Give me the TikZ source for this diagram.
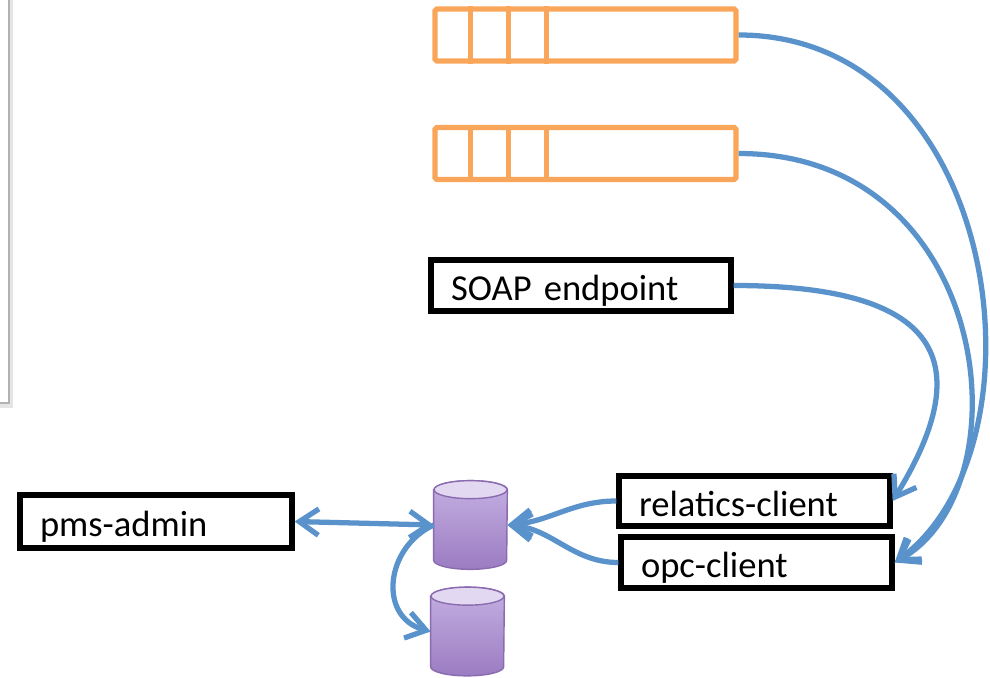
\documentclass[tikz,border=0pt]{standalone}
\usepackage{fontspec}
\setmainfont{Carlito}
\usepackage{tikz}
\usetikzlibrary{arrows.meta,calc}

\definecolor{qorange}{RGB}{249,166,90}
\definecolor{lnblue}{RGB}{90,147,204}
\definecolor{dbedge}{RGB}{138,107,176}
\definecolor{dbtop}{RGB}{227,216,241}
\definecolor{dbhigh}{RGB}{197,176,226}
\definecolor{dblow}{RGB}{155,124,194}

\begin{document}
\begin{tikzpicture}[x=0.02cm,y=0.02cm,
	queue/.style={draw=qorange,line width=3pt,rounded corners=1pt,minimum width=6.02cm,minimum height=1.04cm,inner sep=0pt},
	box/.style={draw,line width=3pt,align=left,inner xsep=0.4cm,inner sep=0pt,text height=0.65cm,text depth=0.05cm,font=\fontsize{20.8}{24}\selectfont},
	dbnode/.style={minimum width=1.46cm,minimum height=1.76cm,inner sep=0pt},
	link/.style={draw=lnblue,line width=3pt,-{Straight Barb[length=11pt,width=15pt]}}]
	\useasboundingbox (0,0) rectangle (990,677);
	\clip (0,0) rectangle (990,677);
	% window cut off at the left
	\fill[gray!20] (-5,269) rectangle (13,690);
	\draw[gray!60,line width=1.5pt,fill=white] (-5,274) rectangle (9,690);
	% queues
	\node[queue] (queueA) at (585.5,642) {};
	\node[queue] (queueB) at (585.5,523.5) {};
	\foreach \q in {queueA,queueB}
		\foreach \x in {38,76,114}
			{\draw[qorange,line width=3pt] ($(\q.north west)+(\x,0)$) -- ($(\q.south west)+(\x,0)$);}
	% boxes
	\node[box,minimum width=6cm,minimum height=1.02cm,text width=5.2cm] (soap) at (581,391.5) {SOAP endpoint};
	\node[box,minimum width=5.42cm,minimum height=1cm,text width=4.62cm] (relatics) at (754.5,176) {relatics-client};
	\node[box,minimum width=5.42cm,minimum height=1.02cm,text width=4.62cm] (opc) at (756.5,114.5) {opc-client};
	\node[box,minimum width=5.44cm,minimum height=1.06cm,text width=4.64cm] (pmsadmin) at (156,155.5) {pms-admin};
	% databases
	\node[dbnode] (dbA) at (470.5,152) {};
	\node[dbnode] (dbB) at (467.5,45.5) {};
	\foreach \n in {dbA,dbB}{
		\shade[top color=dbhigh,bottom color=dblow,draw=dbedge,line width=0.8pt]
			([yshift=-0.18cm]\n.north west) -- ([yshift=0.18cm]\n.south west)
			arc[start angle=180,end angle=360,x radius=0.73cm,y radius=0.18cm]
			-- ([yshift=-0.18cm]\n.north east)
			arc[start angle=0,end angle=180,x radius=0.73cm,y radius=0.18cm] -- cycle;
		\draw[dbedge,fill=dbtop,line width=0.8pt] ([yshift=-0.18cm]\n.north) ellipse[x radius=0.73cm,y radius=0.18cm];
	}
	% connectors
	\draw[link,{Straight Barb[length=11pt,width=15pt]}-{Straight Barb[length=11pt,width=15pt]}] (pmsadmin.east) -- (dbA.west);
	\draw[link] (dbA.west) to[out=205,in=165,looseness=1.3] (dbB.west);
	\draw[link] (relatics.west) to[out=180,in=5] (dbA.east);
	\draw[link] (opc.west) to[out=180,in=-5] (dbA.east);
	\draw[link] (soap.east) .. controls +(220,0) and +(80,130) .. (relatics.east);
	\draw[link] (queueB.east) .. controls +(254,0) and +(133,75) .. (opc.east);
	\draw[link] (queueA.east) .. controls +(264,0) and +(158,115) .. (opc.east);
\end{tikzpicture}
\end{document}
